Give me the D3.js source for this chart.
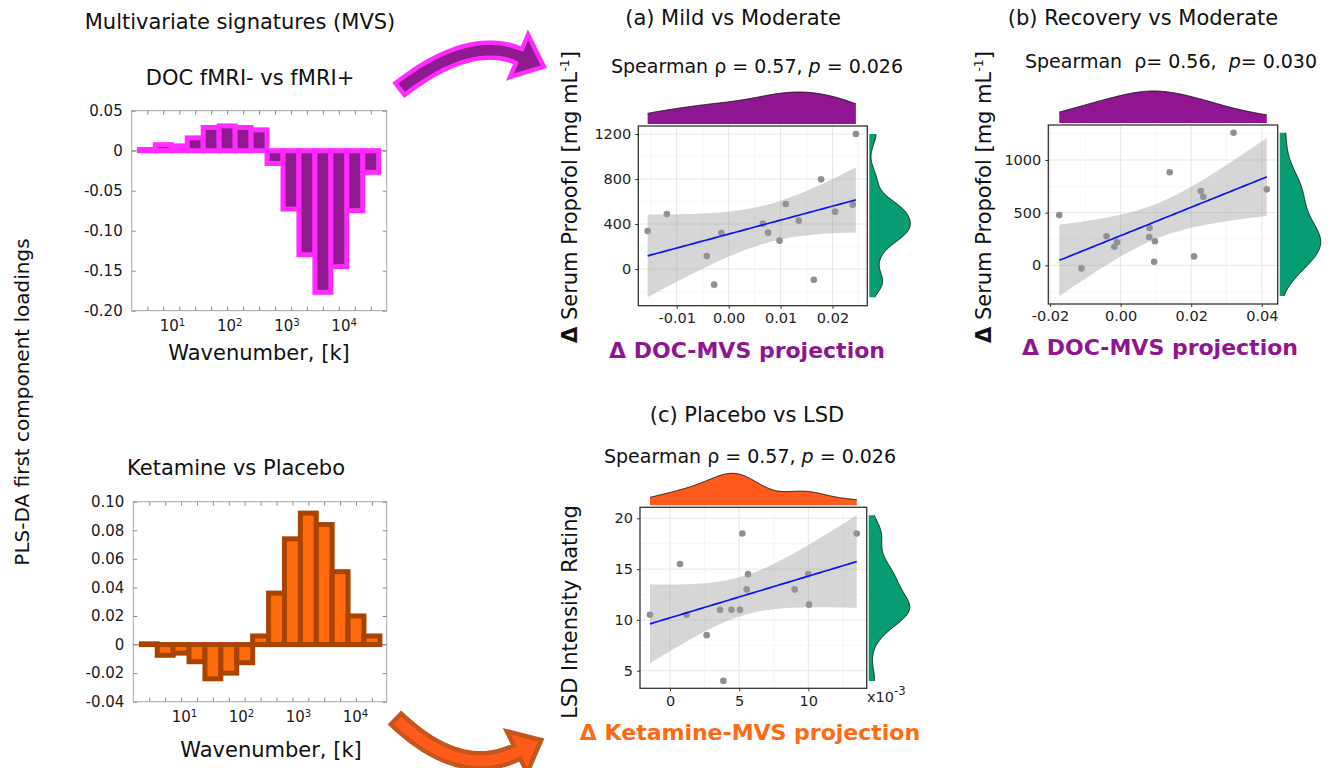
<!DOCTYPE html>
<html>
<head>
<meta charset="utf-8">
<script src="https://cdnjs.cloudflare.com/ajax/libs/d3/7.8.5/d3.min.js"></script>
<style>
  body { margin: 0; background: #fff; }
  svg { font-family: "DejaVu Sans", Verdana, sans-serif; }
</style>
</head>
<body>
<div id="graph"></div>
<script>

// PLS-DA loadings, DOC fMRI- vs fMRI+
var docWavenumber = [3.7, 7.0, 13.4, 25.4, 48.3, 91.8, 175, 332, 631, 1200, 2280, 4340, 8240, 15700, 29800];
var docLoading = [0.0015, 0.0075, 0.006, 0.016, 0.029, 0.031, 0.029, 0.026, -0.016, -0.073, -0.130, -0.177, -0.145, -0.075, -0.027];
var docYTicks = [0.05, 0, -0.05, -0.10, -0.15, -0.20];

// PLS-DA loadings, Ketamine vs Placebo
var ketWavenumber = [2.46, 4.68, 8.89, 16.9, 32.1, 61.1, 116, 221, 420, 798, 1520, 2880, 5480, 10400, 19800];
var ketLoading = [0.0005, -0.0075, -0.006, -0.012, -0.024, -0.020, -0.0127, 0.006, 0.036, 0.074, 0.092, 0.084, 0.051, 0.020, 0.006];
var ketYTicks = [0.10, 0.08, 0.06, 0.04, 0.02, 0, -0.02, -0.04];

var decades = [10, 100, 1000, 10000];

// (a) Mild vs Moderate
var mildX = [-0.0156, -0.0119, -0.0042, -0.0028, -0.0014, 0.0066, 0.0076, 0.0098, 0.0110, 0.0135, 0.0164, 0.0178, 0.0205, 0.0239, 0.0245];
var mildY = [338, 489, 115, -139, 320, 403, 323, 252, 578, 430, -95, 797, 510, 572, 1200];

// (b) Recovery vs Moderate
var recX = [-0.0174, -0.0111, -0.0040, -0.0018, -0.0010, 0.0082, 0.0081, 0.0097, 0.0095, 0.0139, 0.0208, 0.0227, 0.0234, 0.0320, 0.0414];
var recY = [477, -29, 275, 177, 218, 354, 269, 228, 34, 883, 85, 705, 651, 1259, 721];

// (c) Placebo vs LSD
var lsdX = [-0.00145, 0.00072, 0.0012, 0.00265, 0.00362, 0.00386, 0.00444, 0.00506, 0.00523, 0.00554, 0.00564, 0.00901, 0.0100, 0.01005, 0.0135];
var lsdY = [10.5, 15.5, 10.5, 8.5, 11, 4, 11, 11, 18.5, 13, 14.5, 13, 14.5, 11.5, 18.5];

var T975 = 2.160369; // t quantile, 13 df

var svg = d3.select("#graph")
  .append("svg")
    .attr("width", 1339)
    .attr("height", 768);

function label(x, y, txt, size, opts) {
  opts = opts || {};
  var t = svg.append("text")
    .attr("transform", "translate(" + x + "," + y + ")" + (opts.rotate ? " rotate(-90)" : ""))
    .attr("text-anchor", "middle")
    .attr("dy", "0.35em")
    .attr("font-size", size)
    .attr("fill", opts.color || "#111")
    .attr("font-weight", opts.bold ? "bold" : null)
    .text(txt);
  return t;
}

// ---------- bar charts of loadings ----------
function drawBars(o) {
  var g = svg.append("g").attr("transform", "translate(" + o.left + "," + o.top + ")");
  var x = d3.scaleLog().domain(o.xDomain).range([0, o.width]);
  var y = d3.scaleLinear().domain(o.yDomain).range([o.height, 0]);
  var n = o.wn.length;

  // bin edges half way (in log) between centres
  var edges = [o.wn[0] * Math.sqrt(o.wn[0] / o.wn[1])];
  for (var i = 1; i < n; i++) edges.push(Math.sqrt(o.wn[i - 1] * o.wn[i]));
  edges.push(o.wn[n - 1] * Math.sqrt(o.wn[n - 1] / o.wn[n - 2]));

  g.append("rect")
    .attr("width", o.width).attr("height", o.height)
    .attr("fill", "none").attr("stroke", "#a6a6a6");

  g.append("line")
    .attr("x1", 0).attr("x2", o.width)
    .attr("y1", y(0)).attr("y2", y(0))
    .attr("stroke", "#999");

  g.selectAll(".bar")
    .data(o.values)
    .enter()
    .append("rect")
      .attr("class", "bar")
      .attr("x", function(d, i) { return x(edges[i]); })
      .attr("width", function(d, i) { return x(edges[i + 1]) - x(edges[i]); })
      .attr("y", function(d) { return y(Math.max(d, 0)); })
      .attr("height", function(d) { return Math.abs(y(d) - y(0)); })
      .attr("fill", o.fill)
      .attr("stroke", o.stroke)
      .attr("stroke-width", 5);

  var fmt = function(d) { return d === 0 ? "0" : d.toFixed(2); };
  var ya = g.append("g")
    .call(d3.axisLeft(y).tickValues(o.yTicks).tickSizeInner(-4).tickSizeOuter(0).tickPadding(9).tickFormat(fmt));
  g.append("g")
    .attr("transform", "translate(" + o.width + ",0)")
    .call(d3.axisRight(y).tickValues(o.yTicks).tickSizeInner(-4).tickSizeOuter(0).tickFormat(""));
  g.append("g")
    .attr("transform", "translate(0," + o.height + ")")
    .call(d3.axisBottom(x).tickValues(o.wn).tickSizeInner(-4).tickSizeOuter(0).tickFormat(""));
  g.append("g")
    .call(d3.axisTop(x).tickValues(o.wn).tickSizeInner(-4).tickSizeOuter(0).tickFormat(""));
  var xa = g.append("g")
    .attr("transform", "translate(0," + o.height + ")")
    .call(d3.axisBottom(x).tickValues(decades).tickSize(0).tickPadding(10));
  xa.selectAll(".tick text").each(function(d) {
    var t = d3.select(this).text(null);
    t.append("tspan").text("10");
    t.append("tspan").attr("dy", "-0.5em").attr("font-size", "0.68em").text(Math.round(Math.log10(d)));
  });

  g.selectAll(".domain").remove();
  g.selectAll(".tick line").attr("stroke", "#8c8c8c");
  g.selectAll("g").attr("font-family", null).attr("font-size", 15);
  g.selectAll(".tick text").attr("fill", "#1a1a1a");
}

drawBars({
  left: 131.7, top: 110.7, width: 255, height: 200,
  xDomain: [1.97, 56600], yDomain: [-0.20, 0.05],
  wn: docWavenumber, values: docLoading, yTicks: docYTicks,
  fill: "#8f1a8f", stroke: "#ff2bff"
});

drawBars({
  left: 133.3, top: 501.7, width: 253.4, height: 200,
  xDomain: [1.29, 36000], yDomain: [-0.04, 0.10],
  wn: ketWavenumber, values: ketLoading, yTicks: ketYTicks,
  fill: "#ff6a0a", stroke: "#a84300"
});

label(240, 22, "Multivariate signatures (MVS)", 21);
label(250, 78, "DOC fMRI- vs fMRI+", 21);
label(236, 468, "Ketamine vs Placebo", 21);
label(259, 353, "Wavenumber, [k]", 21);
label(271, 750, "Wavenumber, [k]", 21);
label(22, 402, "PLS-DA first component loadings", 20, {rotate: true});

// ---------- scatter panels ----------
function fitBand(xs, ys) {
  var n = xs.length, mx = d3.mean(xs), my = d3.mean(ys);
  var sxx = d3.sum(xs, function(v) { return (v - mx) * (v - mx); });
  var sxy = d3.sum(xs, function(v, i) { return (v - mx) * (ys[i] - my); });
  var b = sxy / sxx, a = my - b * mx;
  var s = Math.sqrt(d3.sum(xs, function(v, i) { var r = ys[i] - a - b * v; return r * r; }) / (n - 2));
  var lo = d3.min(xs), hi = d3.max(xs);
  return d3.range(80).map(function(i) {
    var t = lo + (hi - lo) * i / 79;
    var f = a + b * t, se = s * Math.sqrt(1 / n + (t - mx) * (t - mx) / sxx);
    return {x: t, fit: f, lo: f - T975 * se, hi: f + T975 * se};
  });
}

// gaussian kde, bw.nrd0
function kde(values, lo, hi) {
  var n = values.length;
  var iqr = d3.quantile(values, 0.75) - d3.quantile(values, 0.25);
  var bw = 0.9 * Math.min(d3.deviation(values), iqr / 1.34) * Math.pow(n, -0.2);
  return d3.range(256).map(function(i) {
    var t = lo + (hi - lo) * i / 255;
    var dens = d3.mean(values, function(v) { var u = (t - v) / bw; return Math.exp(-0.5 * u * u); });
    return [t, dens];
  });
}

function drawScatter(o) {
  var g = svg.append("g").attr("transform", "translate(" + o.left + "," + o.top + ")");
  var x = d3.scaleLinear().domain(o.xDomain).range([0, o.width]);
  var y = d3.scaleLinear().domain(o.yDomain).range([o.height, 0]);

  // grid
  var grid = g.append("g");
  grid.selectAll(".vminor").data(o.xMinor).enter().append("line")
    .attr("x1", x).attr("x2", x).attr("y1", 0).attr("y2", o.height)
    .attr("stroke", "#f3f3f3").attr("stroke-width", 0.7);
  grid.selectAll(".hminor").data(o.yMinor).enter().append("line")
    .attr("y1", y).attr("y2", y).attr("x1", 0).attr("x2", o.width)
    .attr("stroke", "#f3f3f3").attr("stroke-width", 0.7);
  grid.selectAll(".vmajor").data(o.xTicks).enter().append("line")
    .attr("x1", x).attr("x2", x).attr("y1", 0).attr("y2", o.height)
    .attr("stroke", "#e6e6e6").attr("stroke-width", 1);
  grid.selectAll(".hmajor").data(o.yTicks).enter().append("line")
    .attr("y1", y).attr("y2", y).attr("x1", 0).attr("x2", o.width)
    .attr("stroke", "#e6e6e6").attr("stroke-width", 1);

  // points
  g.append("g")
    .selectAll("circle")
    .data(o.xs)
    .enter()
    .append("circle")
      .attr("cx", function(d) { return x(d); })
      .attr("cy", function(d, i) { return y(o.ys[i]); })
      .attr("r", 3.3)
      .attr("fill", "#8f8f8f");

  // linear fit with 95% band
  var band = fitBand(o.xs, o.ys);
  g.append("path")
    .datum(band)
    .attr("d", d3.area().x(function(d) { return x(d.x); }).y0(function(d) { return y(d.lo); }).y1(function(d) { return y(d.hi); }))
    .attr("fill", "#999").attr("fill-opacity", 0.4);
  g.append("path")
    .datum(band)
    .attr("d", d3.line().x(function(d) { return x(d.x); }).y(function(d) { return y(d.fit); }))
    .attr("fill", "none").attr("stroke", "#0a14f5").attr("stroke-width", 1.7);

  g.append("rect")
    .attr("width", o.width).attr("height", o.height)
    .attr("fill", "none").attr("stroke", "#333").attr("stroke-width", 1.3);

  g.append("g")
    .attr("transform", "translate(0," + o.height + ")")
    .call(d3.axisBottom(x).tickValues(o.xTicks).tickSize(3).tickPadding(4).tickFormat(o.xFormat));
  g.append("g")
    .call(d3.axisLeft(y).tickValues(o.yTicks).tickSize(3).tickPadding(4).tickFormat(function(d) { return String(d); }));
  g.selectAll(".domain").remove();
  g.selectAll(".tick line").attr("stroke", "#333");
  g.selectAll("g").attr("font-family", null).attr("font-size", 14.5);
  g.selectAll(".tick text").attr("fill", "#1e1e1e");

  // marginal density on top
  var dx = kde(o.xs, d3.min(o.xs), d3.max(o.xs));
  var hx = d3.scaleLinear().domain([0, d3.max(dx, function(d) { return d[1]; })]).range([-2, -34]);
  g.append("path")
    .datum(dx)
    .attr("d", d3.area().x(function(d) { return x(d[0]); }).y0(-2).y1(function(d) { return hx(d[1]); }))
    .attr("fill", o.topColor);
  g.append("path")
    .datum(dx)
    .attr("d", d3.line().x(function(d) { return x(d[0]); }).y(function(d) { return hx(d[1]); }))
    .attr("fill", "none").attr("stroke", "#111").attr("stroke-width", 0.9);

  // marginal density on the right
  var lo = Math.min(d3.min(o.ys), d3.min(band, function(d) { return d.lo; }));
  var hi = Math.max(d3.max(o.ys), d3.max(band, function(d) { return d.hi; }));
  lo = Math.max(lo, o.yDomain[0]);
  hi = Math.min(hi, o.yDomain[1]);
  var dy = kde(o.ys, lo, hi);
  var wy = d3.scaleLinear().domain([0, d3.max(dy, function(d) { return d[1]; })]).range([o.width + 2, o.width + 43]);
  g.append("path")
    .datum(dy)
    .attr("d", d3.area().y(function(d) { return y(d[0]); }).x0(o.width + 2).x1(function(d) { return wy(d[1]); }))
    .attr("fill", "#089c72");
  g.append("path")
    .datum(dy)
    .attr("d", d3.line().y(function(d) { return y(d[0]); }).x(function(d) { return wy(d[1]); }))
    .attr("fill", "none").attr("stroke", "#111").attr("stroke-width", 0.9);
}

var fmt2 = function(d) { return d.toFixed(2); };

drawScatter({
  left: 638.3, top: 126, width: 229, height: 179.7,
  xDomain: [-0.0174, 0.0267], yDomain: [-326, 1271],
  xTicks: [-0.01, 0, 0.01, 0.02], xMinor: [-0.015, -0.005, 0.005, 0.015, 0.025],
  yTicks: [0, 400, 800, 1200], yMinor: [-200, 200, 600, 1000],
  xFormat: fmt2, xs: mildX, ys: mildY, topColor: "#8f1690"
});

drawScatter({
  left: 1048.3, top: 125, width: 229.4, height: 179,
  xDomain: [-0.0205, 0.0445], yDomain: [-367, 1332],
  xTicks: [-0.02, 0, 0.02, 0.04], xMinor: [-0.01, 0.01, 0.03],
  yTicks: [0, 500, 1000], yMinor: [-250, 250, 750, 1250],
  xFormat: fmt2, xs: recX, ys: recY, topColor: "#8f1690"
});

drawScatter({
  left: 640, top: 507.3, width: 226.7, height: 181,
  xDomain: [-0.00217, 0.01422], yDomain: [3.27, 21.08],
  xTicks: [0, 0.005, 0.01], xMinor: [0.0025, 0.0075, 0.0125],
  yTicks: [5, 10, 15, 20], yMinor: [7.5, 12.5, 17.5],
  xFormat: function(d) { return String(Math.round(d * 1000)); },
  xs: lsdX, ys: lsdY, topColor: "#fd5a1c"
});

// panel texts
label(733, 18, "(a) Mild vs Moderate", 21);
label(1143, 18, "(b) Recovery vs Moderate", 21);
label(747, 415, "(c) Placebo vs LSD", 21);

function spearman(x, y, rho, p, tight) {
  var sp = tight ? "" : " ";
  var t = label(x, y, null, 19);
  t.append("tspan").text("Spearman " + (tight ? "\u00a0" : ""));
  t.append("tspan").text("\u03c1");
  t.append("tspan").text(sp + "= " + rho + "," + (tight ? "\u00a0 " : " "));
  t.append("tspan").attr("font-style", "italic").text("p");
  t.append("tspan").text(sp + "= " + p);
}
spearman(757, 66, "0.57", "0.026", false);
spearman(1171, 61, "0.56", "0.030", true);
spearman(750, 456, "0.57", "0.026", false);

function propofolLabel(x, y) {
  var t = label(x, y, null, 21, {rotate: true});
  t.append("tspan").attr("font-weight", "bold").text("\u0394");
  t.append("tspan").text(" Serum Propofol [mg mL");
  t.append("tspan").attr("font-size", "0.6em").attr("dy", "-0.7em").text("-1");
  t.append("tspan").attr("dy", "0.42em").text("]");
}
propofolLabel(570, 197);
propofolLabel(984, 197);
label(570, 612, "LSD Intensity Rating", 21, {rotate: true});

label(747, 350, "\u0394 DOC-MVS projection", 22, {bold: true, color: "#8f1690"});
label(1160, 347, "\u0394 DOC-MVS projection", 22, {bold: true, color: "#8f1690"});
label(750, 732, "\u0394 Ketamine-MVS projection", 22, {bold: true, color: "#ff6a13"});

var sci = svg.append("text").attr("x", 867).attr("y", 702).attr("font-size", 14.5).attr("fill", "#1e1e1e");
sci.append("tspan").text("x10");
sci.append("tspan").attr("font-size", "0.8em").attr("dy", "-0.6em").text("-3");

// ---------- curved arrows ----------
function curvedArrow(p0, c, p1, bodyW, headW, headL, fill, stroke) {
  var at = function(t) {
    var u = 1 - t;
    return [u * u * p0[0] + 2 * u * t * c[0] + t * t * p1[0], u * u * p0[1] + 2 * u * t * c[1] + t * t * p1[1]];
  };
  var dir = function(t) {
    var u = 1 - t;
    var dx = 2 * u * (c[0] - p0[0]) + 2 * t * (p1[0] - c[0]);
    var dy = 2 * u * (c[1] - p0[1]) + 2 * t * (p1[1] - c[1]);
    var l = Math.hypot(dx, dy);
    return [dx / l, dy / l];
  };
  var left = [], right = [];
  d3.range(0, 1.0001, 0.05).forEach(function(t) {
    var p = at(t), d = dir(t);
    left.push([p[0] - d[1] * bodyW / 2, p[1] + d[0] * bodyW / 2]);
    right.push([p[0] + d[1] * bodyW / 2, p[1] - d[0] * bodyW / 2]);
  });
  var d = dir(1);
  var head = [
    [p1[0] - d[1] * headW / 2, p1[1] + d[0] * headW / 2],
    [p1[0] + d[0] * headL, p1[1] + d[1] * headL],
    [p1[0] + d[1] * headW / 2, p1[1] - d[0] * headW / 2]
  ];
  svg.append("path")
    .attr("d", d3.line()(left.concat(head, right.reverse())) + "Z")
    .attr("fill", fill)
    .attr("stroke", stroke)
    .attr("stroke-width", 4.5)
    .attr("stroke-linejoin", "miter");
}

curvedArrow([400, 89], [470, 35], [519, 56], 15, 46, 27, "#8f1a8f", "#ff2bff");
curvedArrow([396, 719], [460, 780], [517, 752], 15, 46, 27, "#ff5a1a", "#c4561c");

</script>
</body>
</html>
